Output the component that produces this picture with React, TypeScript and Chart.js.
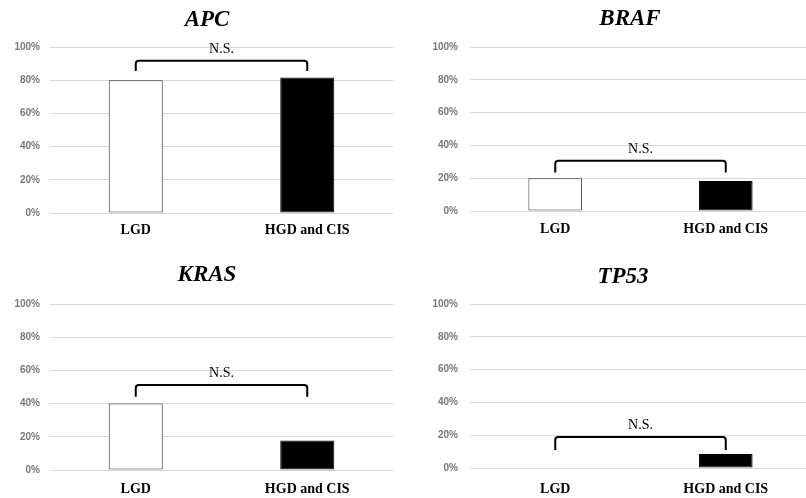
import React, { useEffect, useRef } from "react";
import { Chart, registerables } from "chart.js";

Chart.register(...registerables);

// ---- data ----
const categories = ["LGD", "HGD and CIS"];
const genes = ["APC", "BRAF", "KRAS", "TP53"];
const apcValues = [80, 81.6];
const brafValues = [20, 18.3];
const krasValues = [40, 17.7];
const tp53Values = [0, 8.5];
const yTicks = [0, 20, 40, 60, 80, 100];
const bracketLevels = [91.7, 30.7, 51.2, 18.9];
const bracketLegEnds = [85.5, 23.4, 44.2, 11];
const significanceLabels = ["N.S.", "N.S.", "N.S.", "N.S."];

const seriesByGene = [apcValues, brafValues, krasValues, tp53Values];

// ---- layout (positions / sizes only) ----
type PanelLayout = {
  left: number; top: number; width: number; height: number;
  padTop: number; padRight: number;
  yAxisWidth: number; yTickPad: number; xAxisHeight: number; xTickPad: number;
  titleX: number; titleY: number;
};

const layouts: PanelLayout[] = [
  { left: 0, top: 0, width: 403, height: 249, padTop: 47, padRight: 10, yAxisWidth: 50, yTickPad: 10, xAxisHeight: 36, xTickPad: 9.2, titleX: 207, titleY: 20 },
  { left: 403, top: 0, width: 418, height: 249, padTop: 47, padRight: 10, yAxisWidth: 67, yTickPad: 12, xAxisHeight: 38, xTickPad: 10, titleX: 227, titleY: 19 },
  { left: 0, top: 249, width: 403, height: 249, padTop: 55, padRight: 10, yAxisWidth: 50, yTickPad: 10, xAxisHeight: 28, xTickPad: 10.7, titleX: 207, titleY: 26 },
  { left: 403, top: 249, width: 418, height: 249, padTop: 55, padRight: 10, yAxisWidth: 67, yTickPad: 12, xAxisHeight: 30, xTickPad: 13, titleX: 220, titleY: 27.7 },
];

const annotationPlugin = {
  id: "geneAnnot",
  afterDatasetsDraw(chart: any, _args: any, opts: any) {
    const x = chart.scales.x;
    const y = chart.scales.y;
    const x0 = x.getPixelForValue(0);
    const x1 = x.getPixelForValue(1);
    const yl = y.getPixelForValue(opts.level);
    const ye = y.getPixelForValue(opts.legEnd);
    const ctx = chart.ctx;
    ctx.save();
    // significance bracket
    ctx.strokeStyle = "#000";
    ctx.lineWidth = 2;
    ctx.lineJoin = "round";
    ctx.beginPath();
    ctx.moveTo(x0, ye);
    ctx.arcTo(x0, yl, x1, yl, 3);
    ctx.arcTo(x1, yl, x1, ye, 3);
    ctx.lineTo(x1, ye);
    ctx.stroke();
    ctx.fillStyle = "#000";
    ctx.font = "14px 'Liberation Serif'";
    ctx.textAlign = "center";
    ctx.textBaseline = "middle";
    ctx.fillText(opts.label, (x0 + x1) / 2, yl - 11.5);
    // panel title
    ctx.font = "italic bold 23px 'Liberation Serif'";
    ctx.fillText(opts.title, opts.titleX, opts.titleY);
    ctx.restore();
  },
};

function Panel({ index }: { index: number }) {
  const ref = useRef<HTMLCanvasElement>(null);
  const L = layouts[index];
  useEffect(() => {
    if (!ref.current) return;
    const chart = new Chart(ref.current, {
      type: "bar",
      data: {
        labels: categories,
        datasets: [
          {
            data: seriesByGene[index],
            backgroundColor: ["#ffffff", "#000000"],
            borderColor: ["#333333", "#000000"],
            borderWidth: 1,
            borderSkipped: false,
            barPercentage: 0.315,
            categoryPercentage: 1,
          },
        ],
      },
      options: {
        responsive: false,
        animation: false,
        events: [],
        layout: { padding: { left: 0, right: L.padRight, top: L.padTop, bottom: 0 } },
        plugins: {
          legend: { display: false },
          tooltip: { enabled: false },
          title: { display: false },
          geneAnnot: {
            level: bracketLevels[index],
            legEnd: bracketLegEnds[index],
            label: significanceLabels[index],
            title: genes[index],
            titleX: L.titleX,
            titleY: L.titleY,
          },
        } as any,
        scales: {
          x: {
            afterFit: (scale: any) => {
              scale.height = L.xAxisHeight;
            },
            grid: { display: false, drawTicks: false },
            border: { display: false },
            ticks: {
              color: "#000",
              padding: L.xTickPad,
              maxRotation: 0,
              font: { family: "'Liberation Serif'", size: 14, weight: "bold", lineHeight: 1.2 },
            },
          },
          y: {
            min: 0,
            max: 100,
            afterBuildTicks: (scale: any) => {
              scale.ticks = yTicks.map((v) => ({ value: v }));
            },
            afterFit: (scale: any) => {
              scale.width = L.yAxisWidth;
            },
            grid: { color: "#d9d9d9", lineWidth: 1, drawTicks: false },
            border: { display: false },
            ticks: {
              color: "#777777",
              padding: L.yTickPad,
              font: { family: "'Liberation Sans'", size: 10, weight: "bold" },
              callback: (v: any) => `${v}%`,
            },
          },
        },
      },
      plugins: [annotationPlugin],
    });
    return () => chart.destroy();
  }, [index]);
  return (
    <div style={{ position: "absolute", left: L.left, top: L.top, width: L.width, height: L.height }}>
      <canvas ref={ref} width={L.width} height={L.height} style={{ display: "block" }} />
    </div>
  );
}

export default function App() {
  return (
    <div
      style={{
        position: "absolute",
        left: 0,
        top: 0,
        width: 806,
        height: 498,
        overflow: "hidden",
        background: "#fff",
      }}
    >
      {genes.map((_, i) => (
        <Panel key={i} index={i} />
      ))}
    </div>
  );
}
